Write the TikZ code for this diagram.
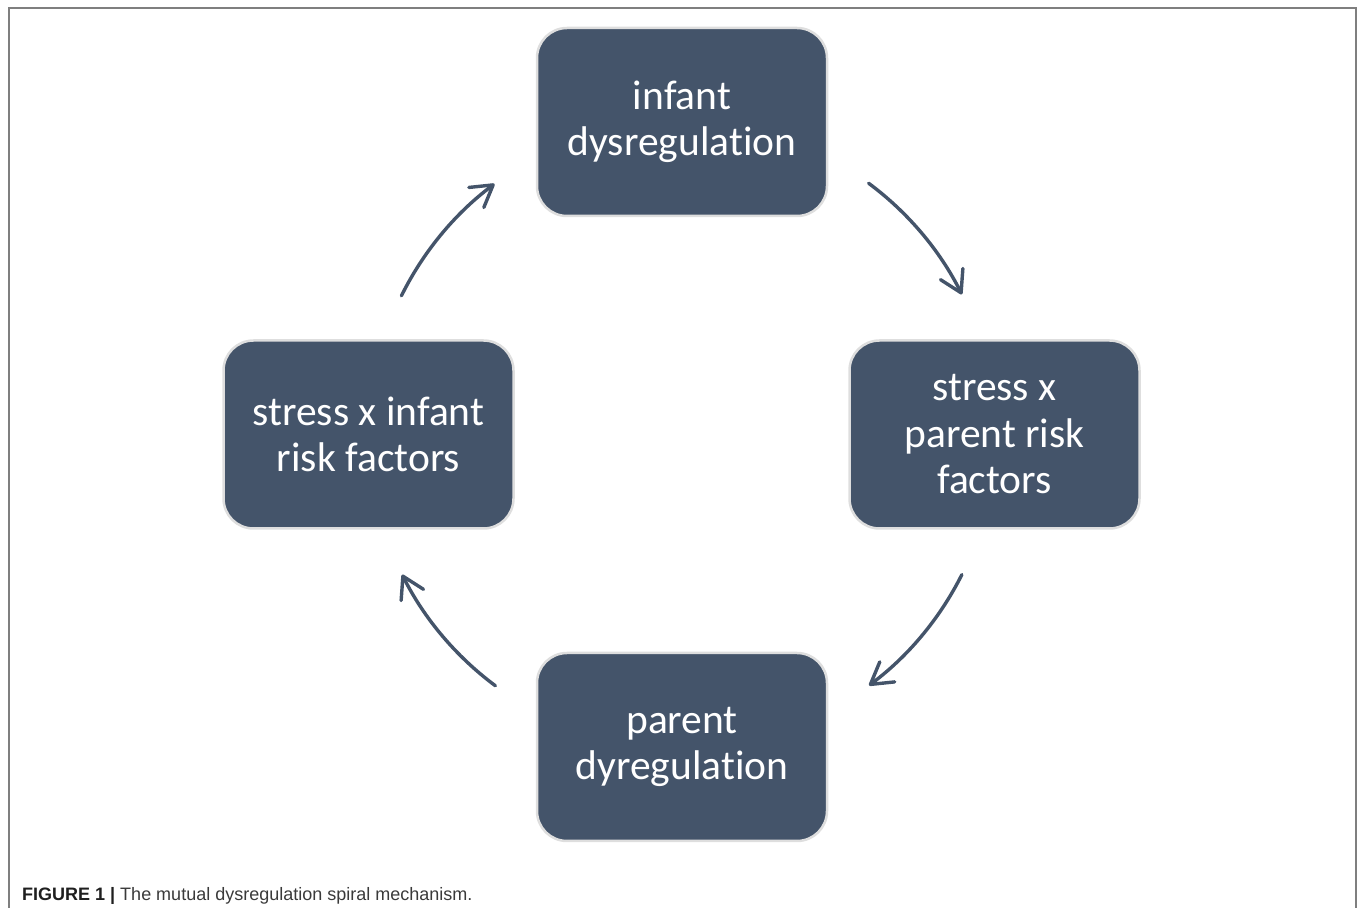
\documentclass[tikz,border=0pt]{standalone}
\usepackage{fontspec}
\setmainfont{Carlito}[Ligatures=NoCommon]
\newfontfamily\captionfont{Liberation Sans}
\usetikzlibrary{arrows.meta}
\definecolor{boxfill}{HTML}{44546A}
\definecolor{boxrim}{HTML}{DEDEDE}
\definecolor{framegray}{HTML}{7F7F7F}
\definecolor{captiontext}{HTML}{3A3A3A}
\begin{document}
\begin{tikzpicture}[x=1pt,y=1pt,
  stagebox/.style={rectangle, rounded corners=30pt, fill=boxfill, draw=boxrim,
    line width=2.5pt, minimum width=290pt, minimum height=188pt,
    text=white, align=center, inner sep=0pt,
    font=\fontsize{41.5}{46.5}\selectfont},
  cyclearrow/.style={draw=boxfill, line width=3.4pt, line cap=round,
    -{Straight Barb[length=21pt, width=25pt, line cap=round, line join=round]}}
]
\useasboundingbox (0,0) rectangle (1358,908);
% outer frame of the figure panel
\draw[framegray, line width=2pt] (8.5,-10) -- (8.5,899.5) -- (1356,899.5) -- (1356,-10);

% the four stages
\node[stagebox] (infant) at (682,786) {infant\\dysregulation};
\node[stagebox] (parentrisk) at (994.5,473.5) {stress x\\parent risk\\factors};
\node[stagebox] (parent) at (682,161) {parent\\dyregulation};
\node[stagebox] (infantrisk) at (368.5,473.5) {stress x infant\\risk factors};

% arrows run along a circle round the middle of the cycle
\coordinate (hub) at (682,473.5);
\draw[cyclearrow] (hub) ++(153.7:313) arc[start angle=153.7, end angle=126.8, radius=313];
\draw[cyclearrow] (hub) ++(53.4:313) arc[start angle=53.4, end angle=26.6, radius=313];
\draw[cyclearrow] (hub) ++(-26.6:313) arc[start angle=-26.6, end angle=-53.3, radius=313];
\draw[cyclearrow] (hub) ++(-126.6:313) arc[start angle=-126.6, end angle=-153.4, radius=313];

% caption
\node[anchor=base west, inner sep=0pt, text=captiontext,
  font=\captionfont\fontsize{18}{22}\selectfont] (caption) at (22,7.5)
  {{\bfseries\color{black!88}FIGURE 1 |} The mutual dysregulation spiral mechanism.};
\end{tikzpicture}
\end{document}
